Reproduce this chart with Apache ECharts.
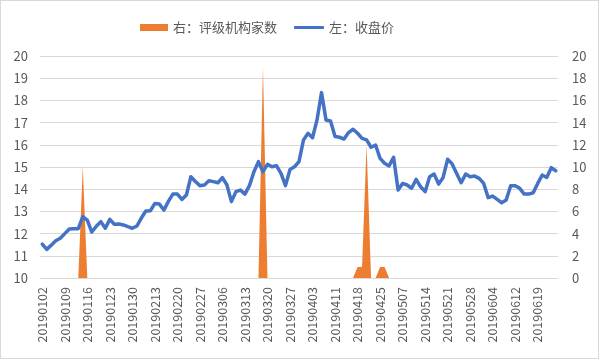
<!DOCTYPE html>
<html>
<head>
<meta charset="utf-8">
<script src="https://cdn.jsdelivr.net/npm/echarts@6/dist/echarts.min.js"></script>
<style>
html,body{margin:0;padding:0;background:#fff;}
#frame{position:absolute;left:0;top:0;width:597px;height:357px;border:1px solid #D9D9D9;}
#chart{position:absolute;left:0;top:0;width:599px;height:360px;}
</style>
</head>
<body>
<div id="frame"></div>
<div id="chart"></div>
<script>
// Trading days (x-axis categories)
var dates = [
'20190102','20190103','20190104','20190107','20190108','20190109','20190110','20190111','20190114','20190115',
'20190116','20190117','20190118','20190121','20190122','20190123','20190124','20190125','20190128','20190129',
'20190130','20190131','20190201','20190211','20190212','20190213','20190214','20190215','20190218','20190219',
'20190220','20190221','20190222','20190225','20190226','20190227','20190228','20190301','20190304','20190305',
'20190306','20190307','20190308','20190311','20190312','20190313','20190314','20190315','20190318','20190319',
'20190320','20190321','20190322','20190325','20190326','20190327','20190328','20190329','20190401','20190402',
'20190403','20190404','20190408','20190409','20190410','20190411','20190412','20190415','20190416','20190417',
'20190418','20190419','20190422','20190423','20190424','20190425','20190426','20190429','20190430','20190506',
'20190507','20190508','20190509','20190510','20190513','20190514','20190515','20190516','20190517','20190520',
'20190521','20190522','20190523','20190524','20190527','20190528','20190529','20190530','20190531','20190603',
'20190604','20190605','20190606','20190610','20190611','20190612','20190613','20190614','20190617','20190618',
'20190619','20190620','20190621','20190624','20190625'
];
// 左：收盘价 (closing price)
var closePrice = [
11.53,11.29,11.48,11.68,11.79,12.00,12.21,12.22,12.22,12.76,
12.61,12.07,12.33,12.54,12.24,12.64,12.42,12.43,12.39,12.31,
12.24,12.34,12.70,13.02,13.03,13.36,13.33,13.06,13.45,13.78,
13.78,13.54,13.74,14.56,14.35,14.16,14.19,14.38,14.34,14.29,
14.52,14.19,13.44,13.89,13.96,13.78,14.16,14.79,15.24,14.79,
15.12,15.01,15.06,14.71,14.16,14.89,15.01,15.24,16.22,16.52,
16.32,17.12,18.35,17.12,17.07,16.37,16.34,16.26,16.55,16.70,
16.52,16.29,16.22,15.89,15.99,15.39,15.17,15.05,15.44,13.96,
14.26,14.19,14.04,14.44,14.11,13.89,14.56,14.68,14.23,14.53,
15.35,15.14,14.71,14.29,14.68,14.56,14.59,14.49,14.26,13.62,
13.69,13.54,13.39,13.51,14.16,14.16,14.04,13.78,13.78,13.84,
14.26,14.64,14.53,14.97,14.83
];
// 右：评级机构家数 (number of rating institutions), only non-zero days
var ratingDates = ['20190115','20190319','20190418','20190419','20190422','20190425','20190426'];
var ratingCounts = [10, 19, 1, 1, 12, 1, 1];
// Left / right axis ranges
var leftMin = 10, leftMax = 20, leftStep = 1;
var rightMin = 0, rightMax = 20, rightStep = 2;

var ratingSeries = dates.map(function (d) {
  var k = ratingDates.indexOf(d);
  return k >= 0 ? ratingCounts[k] : 0;
});

var FONT = "'Noto Sans CJK SC', 'Noto Sans', sans-serif";
var GREY = '#595959';
var chart = echarts.init(document.getElementById('chart'), null, {renderer: 'canvas'});
chart.setOption({
  backgroundColor: 'transparent',
  animation: false,
  textStyle: {fontFamily: FONT},
  legend: [{
    data: ['右：评级机构家数'],
    left: 135, top: 16,
    icon: 'rect', itemWidth: 28, itemHeight: 7, itemGap: 10,
    textStyle: {color: GREY, fontSize: 13, fontFamily: FONT}
  }, {
    data: ['左：收盘价'],
    left: 289, top: 16,
    icon: 'roundRect', itemWidth: 30, itemHeight: 3,
    textStyle: {color: GREY, fontSize: 13, fontFamily: FONT}
  }],
  grid: {left: 40, right: 41, top: 56, bottom: 82, containLabel: false},
  xAxis: {
    type: 'category',
    data: dates,
    boundaryGap: true,
    axisLine: {show: true, lineStyle: {color: '#D9D9D9', width: 1}},
    axisTick: {show: false},
    axisLabel: {interval: 4, rotate: 90, color: GREY, fontSize: 12.5, margin: 9, fontFamily: FONT},
    splitLine: {show: false}
  },
  yAxis: [{
    type: 'value', min: leftMin, max: leftMax, interval: leftStep,
    axisLine: {show: false}, axisTick: {show: false},
    axisLabel: {color: GREY, fontSize: 13, margin: 12, fontFamily: FONT},
    splitLine: {show: true, lineStyle: {color: '#D9D9D9', width: 1}}
  }, {
    type: 'value', min: rightMin, max: rightMax, interval: rightStep,
    position: 'right',
    axisLine: {show: false}, axisTick: {show: false},
    axisLabel: {color: GREY, fontSize: 13, margin: 14, fontFamily: FONT},
    splitLine: {show: false}
  }],
  series: [{
    name: '右：评级机构家数',
    type: 'line',
    yAxisIndex: 1,
    data: ratingSeries,
    symbol: 'none',
    itemStyle: {color: '#ED7D31'},
    lineStyle: {width: 0, color: '#ED7D31'},
    areaStyle: {color: '#ED7D31', opacity: 1},
    z: 1
  }, {
    name: '左：收盘价',
    type: 'line',
    yAxisIndex: 0,
    data: closePrice,
    symbol: 'none',
    itemStyle: {color: '#4472C4'},
    lineStyle: {width: 3.5, color: '#4472C4', join: 'round', cap: 'round'},
    z: 3
  }]
});
</script>
</body>
</html>
